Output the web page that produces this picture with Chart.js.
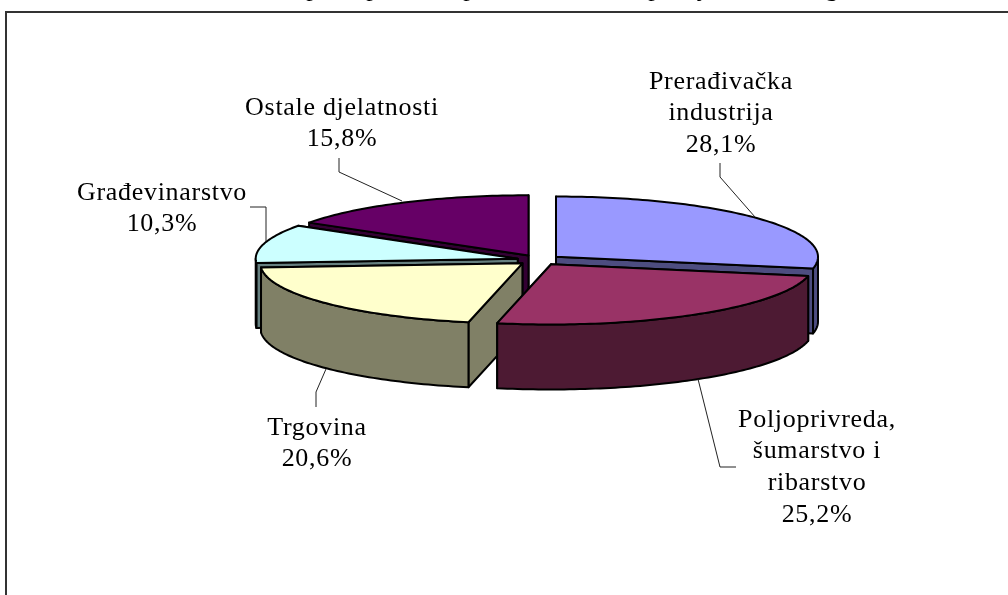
<!DOCTYPE html>
<html><head><meta charset="utf-8">
<style>html,body{margin:0;padding:0;background:#fff}canvas{display:block}</style>
<script src="https://cdn.jsdelivr.net/npm/chart.js@4"></script>
</head><body><canvas id="c" width="1008" height="595"></canvas>
<script>
const categories = [['Prerađivačka','industrija'],['Poljoprivreda,','šumarstvo i','ribarstvo'],['Trgovina'],['Građevinarstvo'],['Ostale djelatnosti']];
const values = [28.1,25.2,20.6,10.3,15.8];
const topColors = ['#9999FF','#993366','#FFFFCC','#CCFFFF','#660066'];
const sideColors = ['#4D4D80','#4D1A33','#808066','#668080','#330033'];
const labelCentres = [[721,82],[817,420],[317,428],[162,193],[342,108]];
const leaders = [
  [[720,163],[720,177],[755,217]],
  [[698,379],[720,467],[736,467]],
  [[316,407],[316,392],[326,369]],
  [[250,207],[266,207],[266,241]],
  [[339,158],[339,172],[402,201]]
];
const clippedGlyphs = [['p',313],['p',373],['p',470],['p',655],['j',702],['g',832]];
const view = {centreY:260, squash:0.23, depth:65, radius:262, explode:22, lineHeight:31.6};
const paintOrder = [4,0,3,2,1];

const fontFace = '26px "Liberation Serif"';

const pie3d = {
  id:'pie3d',
  beforeDraw(chart){
    const ctx = chart.ctx;
    ctx.save();
    ctx.fillStyle='#fff'; ctx.fillRect(0,0,chart.width,chart.height);
    ctx.strokeStyle='#333'; ctx.lineWidth=2;
    ctx.beginPath(); ctx.moveTo(6,chart.height); ctx.lineTo(6,12); ctx.lineTo(chart.width,12); ctx.stroke();
    ctx.restore();
  },
  beforeDatasetsDraw(chart){
    const ctx = chart.ctx, arcs = chart.getDatasetMeta(0).data;
    paintOrder.forEach(i => drawSides(ctx, arcs[i], i));
    arcs.forEach(a => {
      const mid = (a.startAngle+a.endAngle)/2;
      ctx.save();
      ctx.translate(0, view.centreY);
      ctx.scale(1, view.squash);
      ctx.translate(Math.cos(mid)*view.explode, Math.sin(mid)*view.explode - a.y);
      a.draw(ctx);
      ctx.restore();
    });
    arcs.forEach(a => {
      tracePoly(ctx, outline(a, a.startAngle, a.endAngle, true));
      ctx.closePath();
      ctx.lineWidth=2; ctx.lineJoin='round'; ctx.strokeStyle='#000'; ctx.stroke();
    });
    drawLabels(chart);
    return false;
  }
};

function project(a, angle, r){
  const mid = (a.startAngle+a.endAngle)/2, off = view.explode;
  return [a.x + Math.cos(mid)*off + Math.cos(angle)*r,
          view.centreY + (Math.sin(mid)*off + Math.sin(angle)*r)*view.squash];
}
function outline(a, s, e, withApex){
  const pts = [], n = Math.max(2, Math.ceil((e-s)/0.02));
  if(withApex) pts.push(project(a,0,0));
  for(let k=0;k<=n;k++) pts.push(project(a, s+(e-s)*k/n, a.outerRadius));
  return pts;
}
function tracePoly(ctx, pts){
  ctx.beginPath();
  pts.forEach((p,i)=> i?ctx.lineTo(p[0],p[1]):ctx.moveTo(p[0],p[1]));
}
function sweep(ctx, pts, colour){
  const all = pts.concat(pts.slice().reverse().map(p=>[p[0],p[1]+view.depth]));
  tracePoly(ctx, all); ctx.closePath();
  ctx.fillStyle=colour; ctx.fill();
  ctx.lineWidth=2; ctx.lineJoin='round'; ctx.strokeStyle='#000'; ctx.stroke();
}
function drawSides(ctx, a, i){
  const colour = sideColors[i], s=a.startAngle, e=a.endAngle;
  sweep(ctx,[project(a,0,0),project(a,e,a.outerRadius)],colour);
  sweep(ctx,[project(a,0,0),project(a,s,a.outerRadius)],colour);
  const ws=Math.max(s,0), we=Math.min(e,Math.PI);
  if(we>ws) sweep(ctx,outline(a,ws,we,false),colour);
}
function drawLabels(chart){
  const ctx = chart.ctx;
  ctx.save();
  ctx.strokeStyle='#222'; ctx.lineWidth=1;
  leaders.forEach(l=>{ tracePoly(ctx,l); ctx.stroke(); });
  ctx.fillStyle='#000'; ctx.font=fontFace; ctx.textAlign='center'; ctx.textBaseline='middle';
  ctx.letterSpacing='0.7px';
  categories.forEach((lines,i)=>{
    const all = lines.concat([values[i].toFixed(1).replace('.',',')+'%']);
    all.forEach((t,k)=> ctx.fillText(t,labelCentres[i][0],labelCentres[i][1]+k*view.lineHeight));
  });
  ctx.textBaseline='alphabetic';
  clippedGlyphs.forEach(g=>ctx.fillText(g[0],g[1],-4));
  ctx.restore();
}

new Chart(document.getElementById('c'),{
  type:'pie',
  plugins:[pie3d],
  data:{labels:categories.map(c=>c.join(' ')),datasets:[{data:values,backgroundColor:topColors,borderWidth:0}]},
  options:{responsive:false,animation:false,radius:view.radius,rotation:0,
    layout:{padding:{left:70}},
    plugins:{legend:{display:false},tooltip:{enabled:false},title:{display:false}}}
});
</script></body></html>
